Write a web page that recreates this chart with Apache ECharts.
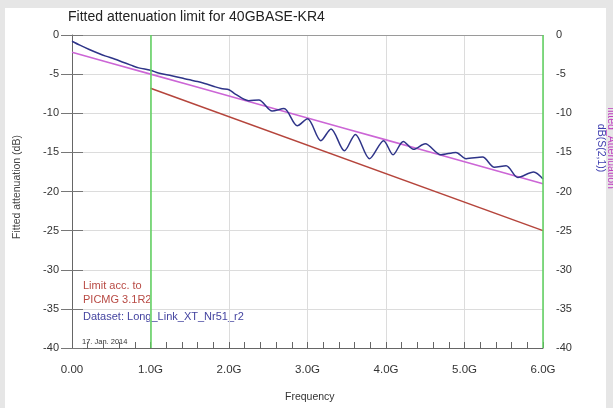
<!DOCTYPE html>
<html>
<head>
<meta charset="utf-8">
<script src="https://cdn.jsdelivr.net/npm/echarts@6/dist/echarts.min.js"></script>
<style>
html,body{margin:0;padding:0;background:#e6e6e6;}
#c{width:613px;height:408px;}
</style>
</head>
<body>
<div id="c"></div>
<script>
// ---- data ----
var xTickLabels = ['0.00','1.0G','2.0G','3.0G','4.0G','5.0G','6.0G'];

var measuredFreq = [0,0.1,0.22,0.35,0.43,0.55,0.64,0.75,0.85,1.0,1.1,1.27,1.4,1.48,1.6,1.69,1.8,1.9,2.0,2.08,2.25,2.38,2.55,2.7,2.87,3.0,3.17,3.3,3.47,3.61,3.79,3.97,4.09,4.22,4.35,4.5,4.7,4.89,5.02,5.23,5.38,5.53,5.68,5.88,6.0];
var measuredDb   = [-0.8,-1.3,-1.85,-2.4,-2.7,-3.1,-3.45,-3.85,-4.2,-4.5,-4.85,-5.2,-5.5,-5.7,-5.95,-6.2,-6.55,-6.85,-7.0,-7.55,-8.4,-8.3,-9.7,-9.4,-11.6,-10.7,-13.5,-12.0,-14.8,-12.7,-15.8,-13.5,-15.3,-13.6,-14.6,-13.9,-15.3,-15.0,-15.8,-15.6,-16.9,-16.7,-18.2,-17.5,-18.4];

var fitFreq = [0,0.5,1,1.5,2,2.5,3,3.5,4,4.5,5,5.5,6];
var fitDb   = [-2.2,-3.6,-5.0,-6.4,-7.8,-9.2,-10.6,-12.0,-13.4,-14.8,-16.2,-17.6,-19.0];

var limitFreq = [1.0,6.0];
var limitDb   = [-6.8,-25.0];

var markerFreqs = [1.0,6.0];

function pairs(xs, ys){ return xs.map(function(x,i){ return [x, ys[i]]; }); }

var FONT = 'Liberation Sans, Arial, sans-serif';
var chart = echarts.init(document.getElementById('c'), null, {renderer:'canvas'});

var yLabel = {color:'#333', fontSize:11, fontFamily:FONT, margin:13, formatter:function(v){ return String(v); }};

chart.setOption({
  backgroundColor:'transparent',
  animation:false,
  graphic:[
    {type:'rect', shape:{x:5,y:8,width:601,height:400}, style:{fill:'#ffffff'}, z:-10},
    {type:'text', left:68, top:10, style:{text:'Fitted attenuation limit for 40GBASE-KR4', fill:'#222', font:'14px '+FONT}},
    {type:'text', x:17, y:187, rotation:Math.PI/2, style:{text:'Fitted attenuation (dB)', fill:'#444', font:'10.5px '+FONT, align:'center', verticalAlign:'middle'}},
    {type:'text', x:601, y:148, rotation:-Math.PI/2, style:{text:'dB(S(2,1))', fill:'#4040b0', font:'10.5px '+FONT, align:'center', verticalAlign:'middle'}},
    {type:'text', x:611, y:148, rotation:-Math.PI/2, style:{text:'fitted_Attenuation', fill:'#c040c0', font:'10.5px '+FONT, align:'center', verticalAlign:'middle'}},
    {type:'text', left:83, top:280, style:{text:'Limit acc. to', fill:'#b84a44', font:'11px '+FONT}},
    {type:'text', left:83, top:294, style:{text:'PICMG 3.1R2', fill:'#b84a44', font:'11px '+FONT}},
    {type:'text', left:83, top:311, style:{text:'Dataset: Long_Link_XT_Nr51_r2', fill:'#4444a0', font:'11px '+FONT}},
    {type:'text', left:82, top:338, style:{text:'17. Jan. 2014', fill:'#333', font:'7.5px '+FONT}},
    {type:'text', left:285, top:392, style:{text:'Frequency', fill:'#333', font:'10.5px '+FONT}}
  ],
  grid:{left:72, right:70, top:35, bottom:60},
  xAxis:[{
    type:'value', min:0, max:6, interval:1,
    axisLine:{show:true, onZero:false, lineStyle:{color:'#666'}},
    axisTick:{show:true, inside:true, length:6, lineStyle:{color:'#666'}},
    minorTick:{show:true, splitNumber:5, length:6, lineStyle:{color:'#666'}},
    axisLabel:{color:'#333', fontSize:11.5, fontFamily:FONT, margin:16,
      formatter:function(v){ return xTickLabels[Math.round(v)]; }},
    splitLine:{show:true, lineStyle:{color:'#dcdcdc'}}
  },{
    type:'value', min:0, max:6, position:'top',
    axisLine:{show:true, lineStyle:{color:'#9a9a9a', width:1.2}},
    axisTick:{show:false}, axisLabel:{show:false}, splitLine:{show:false}
  }],
  yAxis:[
    {type:'value', min:-40, max:0, interval:5, position:'left',
      axisLine:{show:true, onZero:false, lineStyle:{color:'#666'}},
      axisTick:{show:true, length:11, lineStyle:{color:'#777'}},
      splitLine:{show:true, lineStyle:{color:'#dcdcdc'}},
      axisLabel:yLabel},
    {type:'value', min:-40, max:0, interval:5, position:'right',
      axisLine:{show:false},
      axisTick:{show:true, length:11, lineStyle:{color:'#777'}},
      splitLine:{show:false},
      axisLabel:yLabel}
  ],
  series:[
    {type:'line', name:'fitted_Attenuation', data:pairs(fitFreq, fitDb), showSymbol:false,
     lineStyle:{color:'#cc66d6', width:1.6}, z:3,
     markLine:{silent:true, symbol:['none','none'], label:{show:false},
       lineStyle:{color:'#5cd05c', width:1.5, type:'solid'},
       data:markerFreqs.map(function(f){ return {xAxis:f}; })}},
    {type:'line', name:'dB(S(2,1))', data:pairs(measuredFreq, measuredDb), showSymbol:false,
     smooth:0.3,
     lineStyle:{color:'#2e3488', width:1.5}, z:4},
    {type:'line', name:'Limit', data:pairs(limitFreq, limitDb), showSymbol:false,
     lineStyle:{color:'#b5453c', width:1.5}, z:2}
  ]
});
</script>
</body>
</html>
